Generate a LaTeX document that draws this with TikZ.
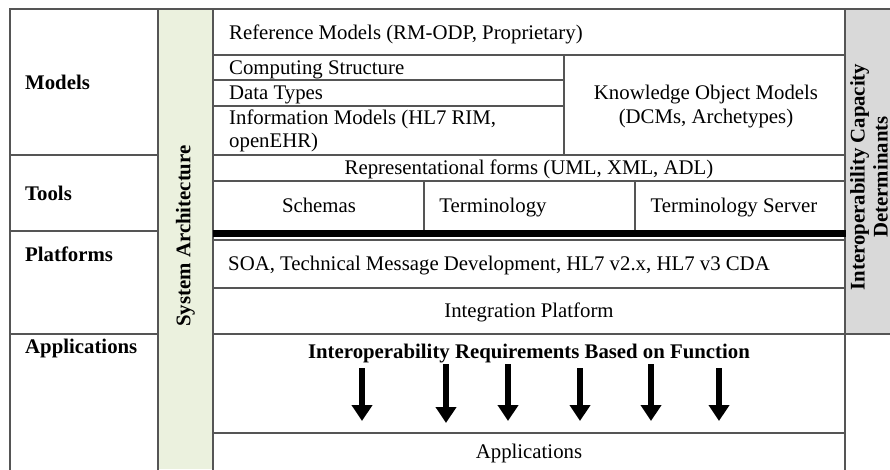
\documentclass[tikz,border=0pt]{standalone}
\usepackage{fontspec}
\setmainfont{Liberation Serif}
\usetikzlibrary{arrows.meta}
\definecolor{lc}{HTML}{555555}
\definecolor{archgreen}{HTML}{EBF1DE}
\definecolor{capgray}{HTML}{D9D9D9}
\begin{document}
\begin{tikzpicture}[x=1pt,y=-1pt,
  font=\fontsize{20.8}{23.5}\selectfont,
  grid/.style={draw=lc, line width=1.3pt},
  txt/.style={inner sep=0pt, text height=14.5pt, text depth=2pt},
  mtxt/.style={inner sep=0pt},
  ltxt/.style={inner sep=0pt, anchor=west, text height=14.5pt, text depth=2pt},
  lbl/.style={inner sep=0pt, anchor=west, text height=14.5pt, text depth=2pt, font=\fontsize{20.8}{23.5}\selectfont\bfseries},
  vlbl/.style={inner sep=0pt, rotate=90, align=center, font=\fontsize{20.8}{23}\selectfont\bfseries},
  downarrow/.style={line width=6.5pt, draw=black, -{Triangle[width=20pt,length=16pt]}}]
\useasboundingbox (0,0) rectangle (890,469);
\clip (0,0) rectangle (890,469);
% coloured columns
\fill[archgreen] (158,9) rectangle (213,469);
\fill[capgray] (845,9) rectangle (895,333);
% frame
\draw[grid] (10,470) -- (10,9) -- (895,9);
\draw[grid] (158,9) -- (158,470);
\draw[grid] (213,9) -- (213,470);
\draw[grid] (845,9) -- (845,470);
% left column rows
\draw[grid] (10,155) -- (158,155);
\draw[grid] (10,231) -- (158,231);
\draw[grid] (10,334) -- (158,334);
% main area rows
\draw[grid] (213,55) -- (845,55);
\draw[grid] (213,80) -- (564,80);
\draw[grid] (213,106) -- (564,106);
\draw[grid] (564,55) -- (564,155);
\draw[grid] (213,155) -- (845,155);
\draw[grid] (213,181) -- (845,181);
\draw[grid] (424,181) -- (424,231);
\draw[grid] (635,181) -- (635,231);
\fill[black] (213,230) rectangle (846,236.5);
\draw[grid] (213,240) -- (845,240);
\draw[grid] (213,288) -- (845,288);
\draw[grid] (213,334) -- (895,334);
\draw[grid] (213,433) -- (845,433);
% left labels
\node[lbl] (models) at (25,83) {Models};
\node[lbl] (tools) at (25,194) {Tools};
\node[lbl] (platforms) at (25,255) {Platforms};
\node[lbl] (apps) at (25,347) {Applications};
% vertical labels
\node[vlbl] (sysarch) at (185.5,236) {System Architecture};
\node[vlbl] (capdet) at (869,177) {Interoperability Capacity\\Determinants};
% main area texts
\node[ltxt] (refmod) at (229,33) {Reference Models (RM-ODP, Proprietary)};
\node[ltxt] (compstr) at (229,68) {Computing Structure};
\node[ltxt] (dtypes) at (229,93) {Data Types};
\node[mtxt, anchor=west, align=left] (infomod) at (229,131) {Information Models (HL7 RIM,\\openEHR)};
\node[mtxt, align=center] (kom) at (706,106.5) {Knowledge Object Models\\(DCMs, Archetypes)};
\node[txt] (repforms) at (529,168) {Representational forms (UML, XML, ADL)};
\node[txt] (schemas) at (319,206) {Schemas};
\node[txt] (term) at (493,206) {Terminology};
\node[txt] (termsrv) at (734,206) {Terminology Server};
\node[ltxt] (soa) at (228,264) {SOA, Technical Message Development, HL7 v2.x, HL7 v3 CDA};
\node[txt] (intplat) at (529,311) {Integration Platform};
\node[txt, font=\fontsize{20.8}{23.5}\selectfont\bfseries] (ireq) at (529,352) {Interoperability Requirements Based on Function};
\node[txt] (applications) at (529,452) {Applications};
% arrows
\coordinate (a1s) at (362,368); \coordinate (a1e) at (362,421);
\coordinate (a2s) at (446,364); \coordinate (a2e) at (446,423);
\coordinate (a3s) at (508,364); \coordinate (a3e) at (508,421);
\coordinate (a4s) at (580,368); \coordinate (a4e) at (580,421);
\coordinate (a5s) at (651,364); \coordinate (a5e) at (651,421);
\coordinate (a6s) at (719,368); \coordinate (a6e) at (719,421);
\foreach \i in {1,...,6} {\draw[downarrow] (a\i s) -- (a\i e);}
\end{tikzpicture}
\end{document}
